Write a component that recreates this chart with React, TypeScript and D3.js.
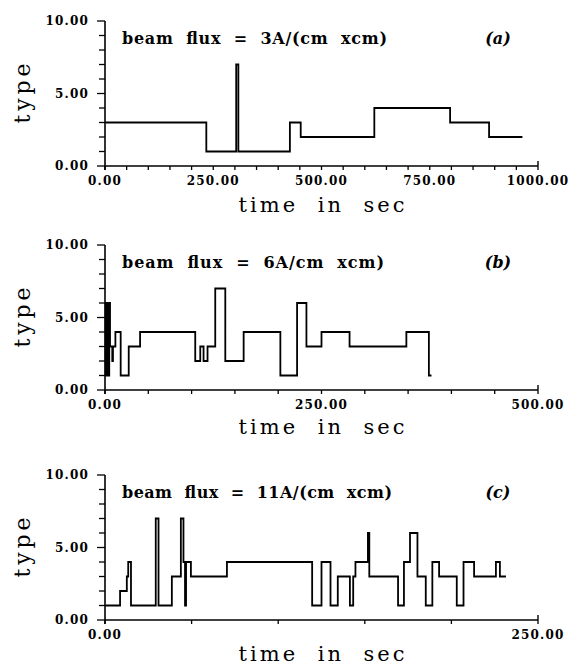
import React from 'react';
import * as d3 from 'd3';

// panel (a): 3 A/(cm x cm)
const aTime = [0, 234, 303, 308, 427, 452, 622, 797, 887, 964];
const aType = [3, 1, 7, 1, 3, 2, 4, 3, 2, 2];

// panel (b): 6 A/(cm x cm)
const bTime = [0, 0.7, 1.4, 2.1, 2.8, 3.5, 4.2, 4.9, 5.8, 8.4, 9.2, 12, 18.1, 27.4, 40.5, 104.2, 110, 113.8, 118.4, 127.3, 138.9, 160.1, 202.5, 221.8, 232.6, 250, 282.4, 348, 374, 377];
const bType = [1, 6, 1, 6, 2, 6, 1, 6, 3, 2, 3, 4, 1, 3, 4, 2, 3, 2, 3, 7, 2, 4, 1, 6, 3, 4, 3, 4, 1, 1];

// panel (c): 11 A/(cm x cm)
const cTime = [0, 8.7, 12.6, 13.4, 15, 29.3, 30.9, 38.6, 43.8, 45.3, 46.2, 46.8, 49.6, 70.4, 119.6, 125, 130.2, 134.4, 141.4, 143.3, 144.6, 151.8, 152.6, 169.2, 172.6, 176.1, 180.4, 185.2, 189, 192.9, 203.1, 207, 213.1, 225.7, 228, 231.5];
const cType = [1, 2, 3, 4, 1, 7, 1, 3, 7, 4, 1, 4, 3, 4, 1, 4, 1, 3, 1, 3, 4, 6, 3, 1, 4, 6, 3, 1, 4, 3, 1, 4, 3, 4, 3, 3];

const titles = ['beam  flux  =  3A/(cm  xcm)', 'beam  flux  =  6A/cm  xcm)', 'beam  flux  =  11A/(cm  xcm)'];
const tags = ['(a)', '(b)', '(c)'];
const xMaxes = [1000, 500, 250];
const xLabelTicks = [[0, 250, 500, 750, 1000], [0, 250, 500], [0, 250]];
const yLabelTicks = [0, 5, 10];

const LEFT = 105;
const RIGHT = 538;
const H = 145;
const tops = [21, 245, 475];
const titleWidths = [265, 262, 270];
const xTitleOffsets = [46, 44, 41];

const serif = '"DejaVu Serif", "Liberation Serif", serif';

function Panel({ time, type, xMax, labelTicks, top, title, tag, titleW, xTitleOff }: any) {
  const x = d3.scaleLinear().domain([0, xMax]).range([LEFT, RIGHT]);
  const y = d3.scaleLinear().domain([0, 10]).range([top + H, top]);
  const pts: [number, number][] = time.map((t: number, i: number) => [t, type[i]]);
  const line = d3.line<[number, number]>()
    .x((d) => x(d[0]))
    .y((d) => y(d[1]))
    .curve(d3.curveStepAfter);
  const xMinor = d3.range(0, xMax + 0.001, 50);
  const yMinor = d3.range(0, 11);
  const bottom = y(0);

  return (
    <g>
      {/* axes */}
      <line x1={LEFT} x2={LEFT} y1={y(10)} y2={bottom + 4} stroke="#000" strokeWidth={1.6} />
      <line x1={LEFT} x2={RIGHT} y1={bottom} y2={bottom} stroke="#000" strokeWidth={1.6} />
      <line x1={RIGHT} x2={RIGHT} y1={bottom} y2={bottom - 5} stroke="#000" strokeWidth={1.4} />
      {yMinor.map((v) => (
        <line key={'y' + v} x1={LEFT - (v % 5 === 0 ? 8 : 6)} x2={LEFT} y1={y(v)} y2={y(v)} stroke="#000" strokeWidth={1.3} />
      ))}
      {xMinor.map((v) => (
        <line key={'x' + v} x1={x(v)} x2={x(v)} y1={bottom} y2={bottom + 4} stroke="#000" strokeWidth={1.3} />
      ))}
      {yLabelTicks.map((v) => (
        <text key={'yl' + v} x={LEFT - 16} y={y(v) + 4} textAnchor="end" fontFamily={serif} fontWeight="bold" fontSize={12} letterSpacing={1.2}>
          {v.toFixed(2)}
        </text>
      ))}
      {labelTicks.map((v: number) => (
        <text key={'xl' + v} x={x(v)} y={bottom + 19} textAnchor="middle" fontFamily={serif} fontWeight="bold" fontSize={12} letterSpacing={1.2}>
          {v.toFixed(2)}
        </text>
      ))}
      {/* data */}
      <path d={line(pts) || ''} fill="none" stroke="#000" strokeWidth={1.8} />
      {/* labels */}
      <text x={122} y={top + 23} fontFamily={serif} fontWeight="bold" fontSize={16} textLength={titleW} lengthAdjust="spacing" style={{ whiteSpace: 'pre' }}>
        {title}
      </text>
      <text x={498} y={top + 23} textAnchor="middle" fontFamily={serif} fontWeight="bold" fontStyle="italic" fontSize={16}>
        {tag}
      </text>
      <text x={(LEFT + RIGHT) / 2} y={bottom + xTitleOff} textAnchor="middle" fontFamily={serif} fontSize={21} textLength={166} lengthAdjust="spacing" style={{ whiteSpace: 'pre' }}>
        {'time  in  sec'}
      </text>
      <text transform={`translate(30,${(y(0) + y(10)) / 2}) rotate(-90)`} textAnchor="middle" fontFamily={serif} fontSize={22} textLength={60} lengthAdjust="spacing">
        type
      </text>
    </g>
  );
}

export default function App() {
  const series = [
    { time: aTime, type: aType },
    { time: bTime, type: bType },
    { time: cTime, type: cType },
  ];
  return (
    <svg width={569} height={668} style={{ position: 'absolute', left: 0, top: 0, background: '#fff' }}>
      <rect width={569} height={668} fill="#fff" />
      {series.map((s, i) => (
        <Panel
          key={i}
          time={s.time}
          type={s.type}
          xMax={xMaxes[i]}
          labelTicks={xLabelTicks[i]}
          top={tops[i]}
          title={titles[i]}
          tag={tags[i]}
          titleW={titleWidths[i]}
          xTitleOff={xTitleOffsets[i]}
        />
      ))}
    </svg>
  );
}
